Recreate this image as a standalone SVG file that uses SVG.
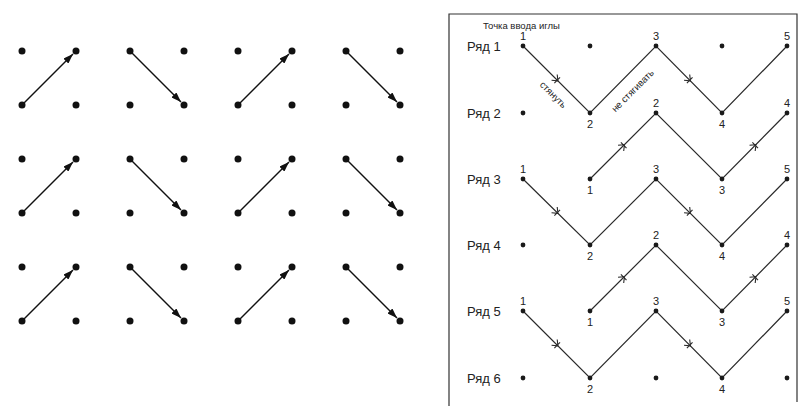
<svg xmlns="http://www.w3.org/2000/svg" xmlns:xlink="http://www.w3.org/1999/xlink" width="800" height="406" viewBox="0 0 800 406">
<style>
.bg{fill:#fff}
.dl{fill:#111}
.dr{fill:#1a1a1a}
.arr{stroke:#111;stroke-width:1.5;fill:none}
.zz{stroke:#2a2a2a;stroke-width:1.2;fill:none;stroke-linejoin:miter}
.tk{stroke:#2a2a2a;stroke-width:1.1;fill:none}
.frame{stroke:#333;stroke-width:1.2;fill:none}
.row{font-family:"Liberation Sans",Arial,sans-serif;font-size:13px;fill:#222}
.num{font-family:"Liberation Sans",Arial,sans-serif;font-size:11px;fill:#222;text-anchor:middle}
.small{font-family:"Liberation Sans",Arial,sans-serif;font-size:9.5px;fill:#222}
</style>
<defs>
<marker id="ah" markerUnits="userSpaceOnUse" markerWidth="10" markerHeight="7" refX="10" refY="3.5" orient="auto">
<path d="M0,0 L10,3.5 L0,7 z" fill="#111"/>
</marker>
<path id="tick" d="M-3,-4 L2,0 L-3,4 M1,-4 L1,4"/>
</defs>
<rect class="bg" x="0" y="0" width="800" height="406"/>

<g id="left-dots" class="dl">
<circle cx="22" cy="51" r="3.5"/><circle cx="76" cy="51" r="3.5"/><circle cx="130" cy="51" r="3.5"/><circle cx="184" cy="51" r="3.5"/><circle cx="238" cy="51" r="3.5"/><circle cx="292" cy="51" r="3.5"/><circle cx="346" cy="51" r="3.5"/><circle cx="400" cy="51" r="3.5"/>
<circle cx="22" cy="105" r="3.5"/><circle cx="76" cy="105" r="3.5"/><circle cx="130" cy="105" r="3.5"/><circle cx="184" cy="105" r="3.5"/><circle cx="238" cy="105" r="3.5"/><circle cx="292" cy="105" r="3.5"/><circle cx="346" cy="105" r="3.5"/><circle cx="400" cy="105" r="3.5"/>
<circle cx="22" cy="159" r="3.5"/><circle cx="76" cy="159" r="3.5"/><circle cx="130" cy="159" r="3.5"/><circle cx="184" cy="159" r="3.5"/><circle cx="238" cy="159" r="3.5"/><circle cx="292" cy="159" r="3.5"/><circle cx="346" cy="159" r="3.5"/><circle cx="400" cy="159" r="3.5"/>
<circle cx="22" cy="213" r="3.5"/><circle cx="76" cy="213" r="3.5"/><circle cx="130" cy="213" r="3.5"/><circle cx="184" cy="213" r="3.5"/><circle cx="238" cy="213" r="3.5"/><circle cx="292" cy="213" r="3.5"/><circle cx="346" cy="213" r="3.5"/><circle cx="400" cy="213" r="3.5"/>
<circle cx="22" cy="267" r="3.5"/><circle cx="76" cy="267" r="3.5"/><circle cx="130" cy="267" r="3.5"/><circle cx="184" cy="267" r="3.5"/><circle cx="238" cy="267" r="3.5"/><circle cx="292" cy="267" r="3.5"/><circle cx="346" cy="267" r="3.5"/><circle cx="400" cy="267" r="3.5"/>
<circle cx="22" cy="321" r="3.5"/><circle cx="76" cy="321" r="3.5"/><circle cx="130" cy="321" r="3.5"/><circle cx="184" cy="321" r="3.5"/><circle cx="238" cy="321" r="3.5"/><circle cx="292" cy="321" r="3.5"/><circle cx="346" cy="321" r="3.5"/><circle cx="400" cy="321" r="3.5"/>
</g>

<g id="left-arrows" class="arr" marker-end="url(#ah)">
<line x1="22" y1="105" x2="73" y2="54"/><line x1="130" y1="51" x2="181" y2="102"/><line x1="238" y1="105" x2="289" y2="54"/><line x1="346" y1="51" x2="397" y2="102"/>
<line x1="22" y1="213" x2="73" y2="162"/><line x1="130" y1="159" x2="181" y2="210"/><line x1="238" y1="213" x2="289" y2="162"/><line x1="346" y1="159" x2="397" y2="210"/>
<line x1="22" y1="321" x2="73" y2="270"/><line x1="130" y1="267" x2="181" y2="318"/><line x1="238" y1="321" x2="289" y2="270"/><line x1="346" y1="267" x2="397" y2="318"/>
</g>

<path id="frame" class="frame" d="M449,406 L449,14 L797,14 L797,402"/>
<text class="small" x="483" y="29">Точка ввода иглы</text>

<g id="connectors">
<polyline class="zz" points="523,46 590,113 656,46 722,113 787,46"/>
<polyline class="zz" points="590,179 656,113 722,179 787,113"/>
<polyline class="zz" points="523,179 590,245 656,179 722,245 787,179"/>
<polyline class="zz" points="590,311 656,245 722,311 787,245"/>
<polyline class="zz" points="523,311 590,378 656,311 722,378 787,311"/>
<g class="tk">
<use xlink:href="#tick" transform="translate(556.5,79.5) rotate(45)"/>
<use xlink:href="#tick" transform="translate(689,79.5) rotate(45)"/>
<use xlink:href="#tick" transform="translate(623,146) rotate(-45)"/>
<use xlink:href="#tick" transform="translate(754.5,146) rotate(-45)"/>
<use xlink:href="#tick" transform="translate(556.5,212) rotate(45)"/>
<use xlink:href="#tick" transform="translate(689,212) rotate(45)"/>
<use xlink:href="#tick" transform="translate(623,278) rotate(-45)"/>
<use xlink:href="#tick" transform="translate(754.5,278) rotate(-45)"/>
<use xlink:href="#tick" transform="translate(556.5,344.5) rotate(45)"/>
<use xlink:href="#tick" transform="translate(689,344.5) rotate(45)"/>
</g>
<text class="small" text-anchor="middle" transform="translate(551,97) rotate(45)">стянуть</text>
<text class="small" text-anchor="middle" transform="translate(635,93) rotate(-45)">не стягивать</text>
</g>

<g id="row1">
<text class="row" x="467" y="51">Ряд 1</text>
<g class="dr"><circle cx="523" cy="46" r="2.4"/><circle cx="590" cy="46" r="2.4"/><circle cx="656" cy="46" r="2.4"/><circle cx="722" cy="46" r="2.4"/><circle cx="787" cy="46" r="2.4"/></g>
<text class="num" x="523" y="40">1</text><text class="num" x="656" y="40">3</text><text class="num" x="787" y="40">5</text>
</g>
<g id="row2">
<text class="row" x="467" y="118">Ряд 2</text>
<g class="dr"><circle cx="523" cy="113" r="2.4"/><circle cx="590" cy="113" r="2.4"/><circle cx="656" cy="113" r="2.4"/><circle cx="722" cy="113" r="2.4"/><circle cx="787" cy="113" r="2.4"/></g>
<text class="num" x="590" y="128">2</text><text class="num" x="656" y="107">2</text><text class="num" x="722" y="128">4</text><text class="num" x="787" y="107">4</text>
</g>
<g id="row3">
<text class="row" x="467" y="184">Ряд 3</text>
<g class="dr"><circle cx="523" cy="179" r="2.4"/><circle cx="590" cy="179" r="2.4"/><circle cx="656" cy="179" r="2.4"/><circle cx="722" cy="179" r="2.4"/><circle cx="787" cy="179" r="2.4"/></g>
<text class="num" x="523" y="173">1</text><text class="num" x="590" y="194">1</text><text class="num" x="656" y="173">3</text><text class="num" x="722" y="194">3</text><text class="num" x="787" y="173">5</text>
</g>
<g id="row4">
<text class="row" x="467" y="250">Ряд 4</text>
<g class="dr"><circle cx="523" cy="245" r="2.4"/><circle cx="590" cy="245" r="2.4"/><circle cx="656" cy="245" r="2.4"/><circle cx="722" cy="245" r="2.4"/><circle cx="787" cy="245" r="2.4"/></g>
<text class="num" x="590" y="260">2</text><text class="num" x="656" y="239">2</text><text class="num" x="722" y="260">4</text><text class="num" x="787" y="239">4</text>
</g>
<g id="row5">
<text class="row" x="467" y="316">Ряд 5</text>
<g class="dr"><circle cx="523" cy="311" r="2.4"/><circle cx="590" cy="311" r="2.4"/><circle cx="656" cy="311" r="2.4"/><circle cx="722" cy="311" r="2.4"/><circle cx="787" cy="311" r="2.4"/></g>
<text class="num" x="523" y="305">1</text><text class="num" x="590" y="326">1</text><text class="num" x="656" y="305">3</text><text class="num" x="722" y="326">3</text><text class="num" x="787" y="305">5</text>
</g>
<g id="row6">
<text class="row" x="467" y="383">Ряд 6</text>
<g class="dr"><circle cx="523" cy="378" r="2.4"/><circle cx="590" cy="378" r="2.4"/><circle cx="656" cy="378" r="2.4"/><circle cx="722" cy="378" r="2.4"/><circle cx="787" cy="378" r="2.4"/></g>
<text class="num" x="590" y="393">2</text><text class="num" x="722" y="393">4</text>
</g>
</svg>
